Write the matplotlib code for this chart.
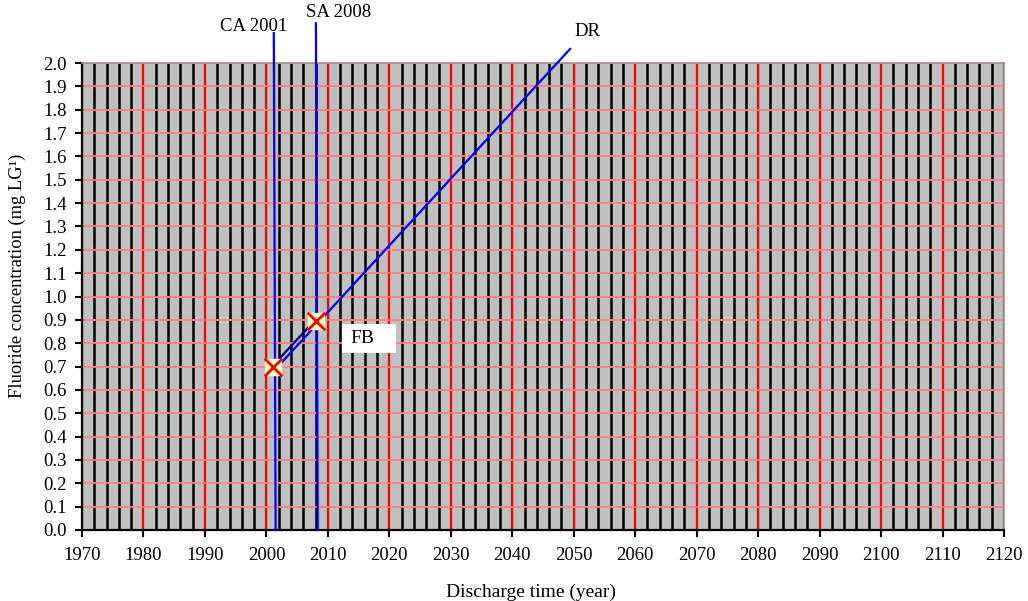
import numpy as np
import matplotlib.pyplot as plt
from matplotlib.ticker import MultipleLocator
from matplotlib.patches import Rectangle

plt.rcParams['font.family'] = ['Liberation Serif', 'DejaVu Serif']

# measured points (year, fluoride mg/L)
pt_years = [2001.1, 2008.1]
pt_conc = [0.70, 0.895]

# discharge regression line DR
dr_years = [2001.1, 2049.4]
dr_conc = [0.678, 2.06]

# vertical markers CA 2001 / SA 2008 (top, bottom)
ca_years = [2001.2, 2001.5]
ca_conc = [2.128, 0.0]
sa_years = [2008.05, 2008.35]
sa_conc = [2.17, 0.0]

fig = plt.figure(figsize=(10.28, 6.01), dpi=100)
ax = fig.add_axes([82/1028, 1-530/601, (1004-82)/1028, (530-63)/601])
ax.set_facecolor('#c0c0c0')

ax.set_xlim(1970, 2120)
ax.set_ylim(0, 2.0)
ax.xaxis.set_major_locator(MultipleLocator(10))
ax.xaxis.set_minor_locator(MultipleLocator(2))
ax.yaxis.set_major_locator(MultipleLocator(0.1))
ax.set_yticklabels([f'{v:.1f}' for v in ax.get_yticks()])

ax.grid(True, which='minor', axis='x', color='black', lw=1.8, zorder=1)
ax.grid(True, which='major', axis='x', color='#ff0000', lw=1.6, zorder=1)
ax.grid(True, which='major', axis='y', color='#ff8080', lw=1.3, zorder=1)
ax.set_axisbelow(True)

ax.tick_params(which='minor', length=0)
ax.tick_params(which='major', direction='out', length=5, width=1.5,
               labelsize=13.5, colors='black')
ax.tick_params(axis='x', pad=7)
ax.tick_params(axis='y', pad=6)

for s in ['left', 'bottom']:
    ax.spines[s].set_linewidth(1.6)
    ax.spines[s].set_color('black')
for s in ['top', 'right']:
    ax.spines[s].set_linewidth(1.2)
    ax.spines[s].set_color('#a09090')

# vertical lines
ax.plot(ca_years, ca_conc, color='#0000ff', lw=1.6, clip_on=False, zorder=4)
ax.plot(sa_years, sa_conc, color='#0000ff', lw=1.6, clip_on=False, zorder=4)
ax.text(1998.0, 2.158, 'CA 2001', ha='center', va='center', fontsize=13.5)
ax.text(2011.8, 2.218, 'SA 2008', ha='center', va='center', fontsize=13.5)

# DR line
ax.plot(dr_years, dr_conc, color='#0000ff', lw=1.6, clip_on=False, zorder=4)
ax.text(2052.3, 2.133, 'DR', ha='center', va='center', fontsize=13.5)

# link between measured points
ax.plot([pt_years[0] + 0.5, pt_years[1] - 1.0], [pt_conc[0] + 0.02, pt_conc[1] - 0.02],
        color='#000080', lw=1.6, zorder=4)

# markers
ax.scatter(pt_years, pt_conc, marker='s', s=140, color='#ffffc8', zorder=5)
ax.scatter(pt_years, pt_conc, marker='x', s=160, color='#ff0000', lw=2, zorder=6)

# FB label box
ax.add_patch(Rectangle((2012.25, 0.758), 8.8, 0.124, facecolor='white',
                       edgecolor='none', zorder=7))
ax.text(2015.55, 0.82, 'FB', ha='center', va='center', fontsize=14, zorder=8)

ax.set_xlabel('Discharge time (year)', fontsize=14)
ax.xaxis.set_label_coords((531-82)/922, -0.115)
ax.set_ylabel('Fluoride concentration (mg LG¹)', fontsize=13.3)
ax.yaxis.set_label_coords(-0.061, (530-276)/467)

fig.savefig('out.png', dpi=100)
